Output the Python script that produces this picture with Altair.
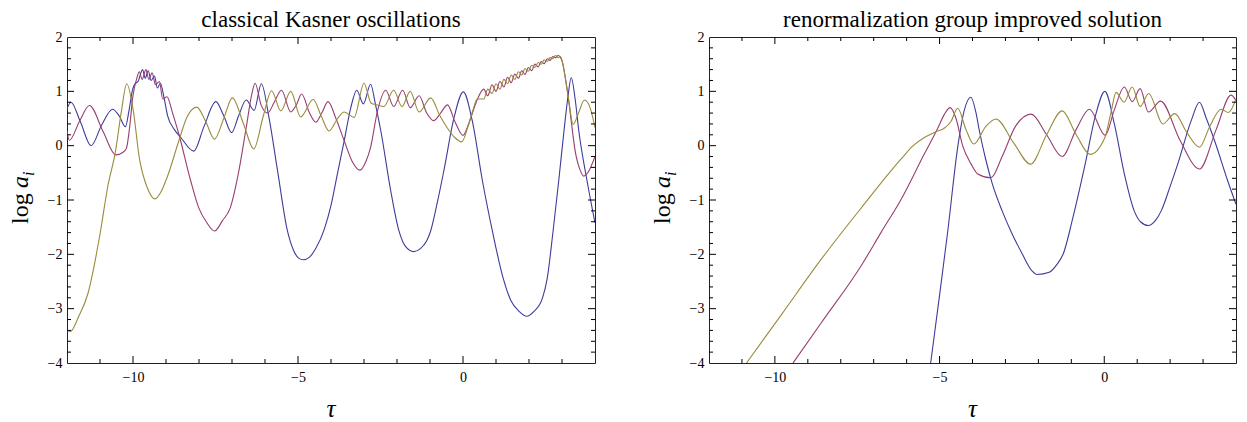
import altair as alt
import pandas as pd

FONT = "Liberation Serif"
W_L, W_R, H = 528, 527, 326
SERIES = ["a1", "a2", "a3"]
COLORS = ["#3d3d99", "#993d71", "#998b3d"]

TITLES = ["classical Kasner oscillations", "renormalization group improved solution"]

X_LABELS = [-10, -5, 0]
Y_LABELS = [-4, -3, -2, -1, 0, 1, 2]
X_MAJOR = [-10, -5, 0]
X_MINOR = [-11, -9, -8, -7, -6, -4, -3, -2, -1, 1, 2, 3]
Y_MAJOR = [-3, -2, -1, 0, 1]
Y_MINOR = [-3.8, -3.6, -3.4, -3.2, -2.8, -2.6, -2.4, -2.2, -1.8, -1.6, -1.4, -1.2,
           -0.8, -0.6, -0.4, -0.2, 0.2, 0.4, 0.6, 0.8, 1.2, 1.4, 1.6, 1.8]

# ---------------- left panel: classical Kasner oscillations ----------------
LEFT_BLUE = [(-12.0, 0.68), (-11.88, 0.80), (-11.6, 0.45), (-11.27, 0.0), (-10.95, 0.38),
             (-10.62, 0.67), (-10.42, 0.55), (-10.23, 0.35), (-10.12, 0.65), (-10.01, 1.04),
             (-9.94, 1.14), (-9.85, 1.18), (-9.71, 1.40), (-9.63, 1.24), (-9.54, 1.38),
             (-9.45, 1.20), (-9.35, 1.28), (-9.26, 1.06), (-9.17, 1.15), (-9.05, 0.85),
             (-8.95, 0.55), (-8.75, 0.30), (-8.55, 0.15), (-8.16, -0.10), (-7.85, 0.35),
             (-7.49, 0.81), (-7.25, 0.55), (-7.01, 0.24), (-6.8, 0.55), (-6.57, 0.84),
             (-6.33, 0.65), (-6.11, 1.14), (-5.88, 0.52), (-5.62, -0.46), (-5.32, -1.57),
             (-5.14, -1.92), (-4.98, -2.07), (-4.84, -2.10), (-4.65, -2.05), (-4.45, -1.88),
             (-4.21, -1.55), (-4.0, -1.1), (-3.8, -0.5), (-3.6, 0.09), (-3.4, 0.7),
             (-3.22, 1.02), (-3.02, 0.77), (-2.8, 1.13), (-2.65, 0.75), (-2.49, 0.27),
             (-2.19, -0.83), (-1.94, -1.57), (-1.75, -1.85), (-1.49, -1.95), (-1.3, -1.90),
             (-1.1, -1.75), (-0.98, -1.57), (-0.78, -1.05), (-0.58, -0.46), (-0.27, 0.52),
             (0.01, 0.99), (0.28, 0.46), (0.59, -0.65), (0.89, -1.57), (1.2, -2.4),
             (1.45, -2.85), (1.7, -3.05), (1.93, -3.14), (2.15, -3.05), (2.41, -2.8),
             (2.55, -2.45), (2.73, -1.57), (2.9, -0.65), (3.06, 0.27), (3.18, 0.9),
             (3.28, 1.25), (3.4, 0.85), (3.51, 0.27), (3.76, -0.65), (4.0, -1.42)]

LEFT_MAGENTA = [(-12.0, 0.27), (-11.93, 0.10), (-11.62, 0.45), (-11.32, 0.74), (-10.9, 0.25),
                (-10.52, -0.17), (-10.3, -0.12), (-10.2, -0.05), (-10.1, 0.35), (-10.01, 0.88),
                (-9.88, 1.25), (-9.81, 1.36), (-9.72, 1.22), (-9.61, 1.40), (-9.52, 1.22),
                (-9.42, 1.34), (-9.32, 1.12), (-9.2, 1.18), (-9.1, 0.86), (-8.97, 0.90),
                (-8.8, 0.6), (-8.61, 0.21), (-8.25, -0.65), (-8.01, -1.14), (-7.77, -1.41),
                (-7.53, -1.57), (-7.29, -1.38), (-7.05, -1.14), (-6.81, -0.52), (-6.57, 0.33),
                (-6.4, 0.95), (-6.30, 1.15), (-6.12, 0.75), (-5.92, 0.60), (-5.72, 0.8),
                (-5.5, 1.02), (-5.22, 0.62), (-5.05, 0.75), (-4.89, 0.95), (-4.65, 0.6),
                (-4.46, 0.43), (-4.28, 0.6), (-4.09, 0.81), (-3.85, 0.5), (-3.6, 0.09),
                (-3.35, -0.3), (-3.12, -0.45), (-2.95, -0.3), (-2.8, -0.03), (-2.59, 0.64),
                (-2.34, 1.02), (-2.1, 0.72), (-1.83, 1.02), (-1.6, 0.7), (-1.33, 0.92),
                (-1.1, 0.6), (-0.89, 0.46), (-0.68, 0.6), (-0.47, 0.75), (-0.25, 0.45),
                (0.0, 0.19), (0.2, 0.45), (0.4, 0.8), (0.63, 1.04), (0.75, 0.92),
                (0.88, 1.12), (1.0, 1.0), (1.12, 1.18), (1.24, 1.08), (1.35, 1.26),
                (1.46, 1.16), (1.57, 1.32), (1.68, 1.24), (1.78, 1.38), (1.88, 1.31),
                (1.98, 1.44), (2.08, 1.38), (2.18, 1.50), (2.28, 1.45), (2.37, 1.55),
                (2.46, 1.51), (2.55, 1.60), (2.64, 1.57), (2.72, 1.64), (2.8, 1.62),
                (2.88, 1.66), (2.95, 1.63), (3.02, 1.52), (3.1, 1.25), (3.2, 0.85),
                (3.28, 0.45), (3.4, -0.1), (3.55, -0.45), (3.66, -0.56), (3.8, -0.48),
                (4.0, -0.2)]

LEFT_OLIVE = [(-12.0, -3.40), (-11.9, -3.42), (-11.65, -3.15), (-11.37, -2.73), (-11.0, -1.63),
              (-10.77, -0.77), (-10.53, -0.10), (-10.35, 0.64), (-10.19, 1.14), (-9.99, 0.64),
              (-9.81, -0.22), (-9.57, -0.77), (-9.33, -0.98), (-9.15, -0.85), (-8.97, -0.59),
              (-8.61, 0.09), (-8.37, 0.52), (-8.07, 0.71), (-7.8, 0.45), (-7.53, 0.12),
              (-7.25, 0.5), (-6.99, 0.88), (-6.65, 0.4), (-6.34, -0.06), (-6.05, 0.55),
              (-5.8, 1.01), (-5.52, 0.64), (-5.22, 1.0), (-4.92, 0.53), (-4.54, 0.85),
              (-4.3, 0.55), (-4.06, 0.27), (-3.8, 0.5), (-3.6, 0.62), (-3.3, 0.52),
              (-3.0, 1.15), (-2.78, 0.78), (-2.6, 0.75), (-2.4, 0.72), (-2.1, 1.02),
              (-1.85, 0.72), (-1.6, 1.0), (-1.33, 0.62), (-0.98, 0.88), (-0.7, 0.55),
              (-0.48, 0.33), (-0.25, 0.15), (-0.04, 0.07), (0.15, 0.35), (0.3, 0.65),
              (0.43, 0.86), (0.63, 0.86), (0.75, 1.04), (0.88, 0.96), (1.0, 1.14),
              (1.12, 1.04), (1.24, 1.22), (1.35, 1.14), (1.46, 1.30), (1.57, 1.22),
              (1.68, 1.36), (1.78, 1.30), (1.88, 1.42), (1.98, 1.37), (2.08, 1.48),
              (2.18, 1.44), (2.28, 1.53), (2.37, 1.50), (2.46, 1.58), (2.55, 1.55),
              (2.64, 1.62), (2.72, 1.60), (2.8, 1.66), (2.88, 1.62), (2.95, 1.64),
              (3.02, 1.52), (3.1, 1.25), (3.2, 0.85), (3.34, 0.39), (3.5, 0.6),
              (3.68, 0.84), (3.85, 0.7), (4.0, 0.33)]

# ---------------- right panel: renormalization group improved solution ----------------
RIGHT_BLUE = [(-5.27, -4.0), (-5.0, -2.75), (-4.75, -1.57), (-4.45, -0.03), (-4.25, 0.65),
              (-4.05, 0.89), (-3.9, 0.62), (-3.79, 0.27), (-3.6, -0.25), (-3.4, -0.7),
              (-3.1, -1.2), (-2.8, -1.62), (-2.5, -1.98), (-2.2, -2.3), (-2.04, -2.37),
              (-1.67, -2.33), (-1.43, -2.18), (-1.25, -2.0), (-0.95, -1.32), (-0.58, -0.34),
              (-0.28, 0.52), (0.02, 1.0), (0.31, 0.39), (0.61, -0.52), (0.91, -1.2),
              (1.1, -1.4), (1.34, -1.47), (1.55, -1.38), (1.73, -1.2), (2.0, -0.75),
              (2.23, -0.34), (2.64, 0.46), (2.89, 0.8), (3.1, 0.5), (3.35, 0.09),
              (3.75, -0.65), (4.0, -1.08)]

RIGHT_MAGENTA = [(-9.45, -4.0), (-8.58, -3.25), (-7.37, -2.2), (-6.78, -1.6), (-6.16, -0.98),
                 (-5.46, -0.15), (-5.07, 0.3), (-4.85, 0.58), (-4.68, 0.70), (-4.5, 0.5),
                 (-4.3, 0.0), (-4.04, -0.34), (-3.84, -0.52), (-3.44, -0.59), (-3.1, -0.2),
                 (-2.7, 0.35), (-2.22, 0.58), (-1.75, 0.2), (-1.28, -0.2), (-0.85, 0.3),
                 (-0.45, 0.67), (0.03, 0.19), (0.3, 0.65), (0.61, 1.08), (0.85, 0.81),
                 (1.09, 1.05), (1.34, 0.62), (1.71, 0.82), (2.3, 0.1), (2.89, -0.43),
                 (3.4, 0.3), (3.85, 0.93), (4.0, 0.83)]

RIGHT_OLIVE = [(-10.86, -4.0), (-9.79, -3.10), (-8.58, -2.08), (-7.79, -1.46), (-7.37, -1.14),
               (-6.47, -0.46), (-6.16, -0.24), (-5.8, 0.0), (-5.46, 0.15), (-5.1, 0.26),
               (-4.86, 0.32), (-4.65, 0.45), (-4.45, 0.69), (-4.2, 0.3), (-3.96, 0.03),
               (-3.6, 0.35), (-3.29, 0.49), (-2.75, 0.05), (-2.24, -0.34), (-1.75, 0.2),
               (-1.28, 0.64), (-0.85, 0.2), (-0.43, -0.16), (0.02, 0.15), (0.2, 0.6),
               (0.36, 0.98), (0.6, 0.80), (0.85, 1.08), (1.09, 0.72), (1.35, 0.96),
               (1.78, 0.40), (2.14, 0.59), (2.5, 0.25), (2.89, -0.03), (3.2, 0.35),
               (3.55, 0.67), (3.77, 0.61), (4.0, 0.86)]

XS = alt.Scale(domain=[-12, 4], nice=False, zero=False)
YS = alt.Scale(domain=[-4, 2], nice=False, zero=False)
X_AXIS = alt.Axis(values=X_LABELS, title=None, grid=False, ticks=False, tickSize=0,
                  domain=False, labelFont=FONT, labelFontSize=14, labelColor="black",
                  labelPadding=7, labelOverlap=False, labelFlush=False)
Y_AXIS = alt.Axis(values=Y_LABELS, title=None, grid=False, ticks=False, tickSize=0,
                  domain=False, labelFont=FONT, labelFontSize=14, labelColor="black",
                  labelPadding=5, labelOverlap=False, labelFlush=False)

ONE = pd.DataFrame({"k": [0]})


def txt(text, x, y, size, style="normal", angle=0, align="center"):
    return alt.Chart(ONE).mark_text(
        text=text, font=FONT, fontSize=size, fontStyle=style, angle=angle,
        align=align, baseline="alphabetic", color="black"
    ).encode(x=alt.value(x), y=alt.value(y))


def frame_ticks(W):
    layers = []
    for vals, ln in [(X_MAJOR, 7), (X_MINOR, 4)]:
        base = alt.Chart(pd.DataFrame({"v": vals})).mark_rule(color="black", strokeWidth=1)
        xe = alt.X("v:Q", scale=XS, axis=X_AXIS)
        layers.append(base.encode(x=xe, y=alt.value(H), y2=alt.value(H - ln)))
        layers.append(base.encode(x=xe, y=alt.value(0), y2=alt.value(ln)))
    for vals, ln in [(Y_MAJOR, 7), (Y_MINOR, 4)]:
        base = alt.Chart(pd.DataFrame({"v": vals})).mark_rule(color="black", strokeWidth=1)
        ye = alt.Y("v:Q", scale=YS, axis=Y_AXIS)
        layers.append(base.encode(y=ye, x=alt.value(0), x2=alt.value(ln)))
        layers.append(base.encode(y=ye, x=alt.value(W), x2=alt.value(W - ln)))
    return layers


def panel(series, title, W):
    rows = []
    for name, pts in zip(SERIES, series):
        for x, y in pts:
            rows.append({"s": name, "x": x, "y": y})
    df = pd.DataFrame(rows)
    lines = alt.Chart(df).mark_line(strokeWidth=1.1, interpolate="monotone", clip=True).encode(
        x=alt.X("x:Q", scale=XS, axis=X_AXIS),
        y=alt.Y("y:Q", scale=YS, axis=Y_AXIS),
        color=alt.Color("s:N", scale=alt.Scale(domain=SERIES, range=COLORS), legend=None),
    )
    texts = [
        txt(title, W / 2, -10, 23),
        txt("τ", W / 2, 380, 25, "italic"),
        txt("log", -39, 187, 24, angle=270, align="left"),
        txt("a", -39, 151, 24, "italic", 270, "left"),
        txt("i", -33, 139, 16, "italic", 270, "left"),
    ]
    return alt.layer(lines, *frame_ticks(W), *texts).properties(width=W, height=H)


left = panel([LEFT_BLUE, LEFT_MAGENTA, LEFT_OLIVE], TITLES[0], W_L)
right = panel([RIGHT_BLUE, RIGHT_MAGENTA, RIGHT_OLIVE], TITLES[1], W_R)

chart = alt.hconcat(left, right, spacing=114, bounds="flush").properties(
    padding=0, background="white"
).configure_view(stroke="#222", strokeWidth=1).configure_axis(
    labelFont=FONT, labelFontSize=14, labelColor="black"
).configure_text(font=FONT)

chart.save("out.html", embed_options={"renderer": "svg", "actions": False})
